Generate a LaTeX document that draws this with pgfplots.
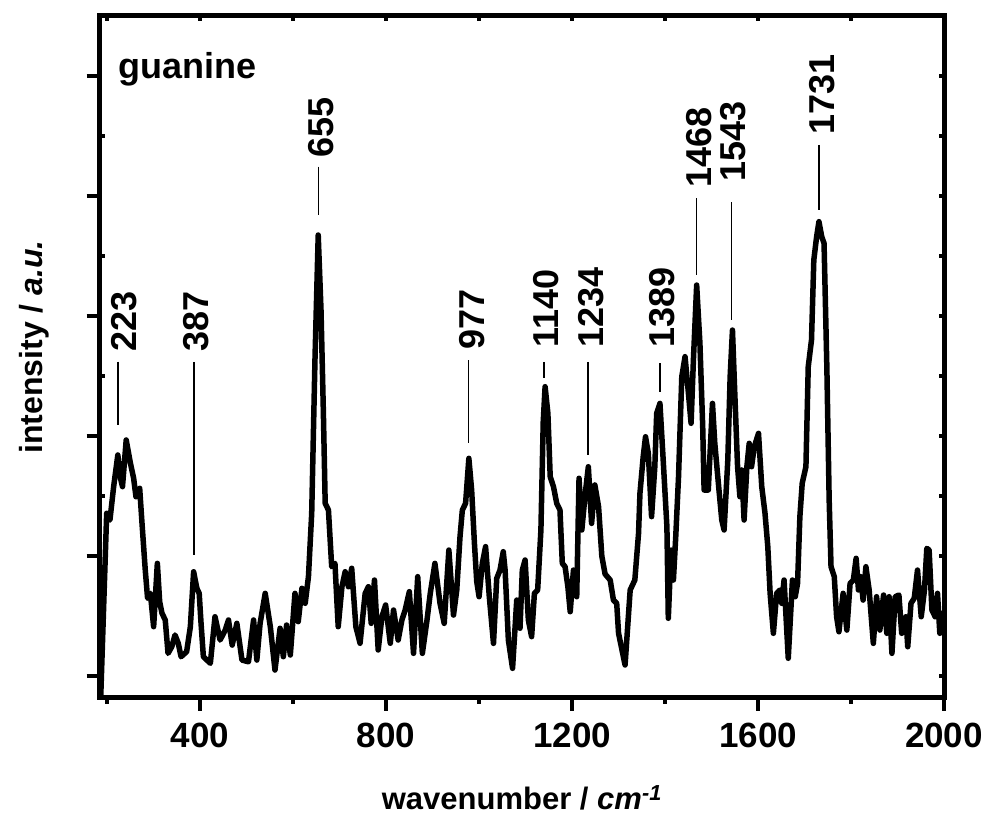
\documentclass[border=0pt]{standalone}
\usepackage{pgfplots}
\pgfplotsset{compat=1.18}
\usepackage{fontspec}
\setmainfont{Liberation Sans}

\pgfplotstableread{
x y
186 -0.2
199 1.356
206 1.300
214 1.578
223 1.842
228 1.661
233 1.578
241 1.967
250 1.775
257 1.648
262 1.494
270 1.564
275 1.273
282 0.883
287 0.648
293 0.689
300 0.411
308 0.939
313 0.619
318 0.523
325 0.467
331 0.189
339 0.244
346 0.342
353 0.273
359 0.161
371 0.203
379 0.411
386 0.869
393 0.731
398 0.689
402 0.439
407 0.161
422 0.106
432 0.494
443 0.300
454 0.383
461 0.467
469 0.258
479 0.439
490 0.133
504 0.119
515 0.467
522 0.133
529 0.439
540 0.689
551 0.411
561 0.050
572 0.398
579 0.161
586 0.425
594 0.175
604 0.689
611 0.453
619 0.731
626 0.606
633 0.828
640 1.356
647 2.633
654 3.675
660 3.050
665 2.217
669 1.439
676 1.383
683 0.911
690 0.939
697 0.411
705 0.744
712 0.869
719 0.744
726 0.898
735 0.411
744 0.273
755 0.689
762 0.744
768 0.439
775 0.800
783 0.217
791 0.494
799 0.592
809 0.273
816 0.550
826 0.300
834 0.467
841 0.550
850 0.703
859 0.189
868 0.828
878 0.189
888 0.467
895 0.689
905 0.939
916 0.606
925 0.439
935 1.050
945 0.508
952 0.717
959 1.161
964 1.383
971 1.439
978 1.814
984 1.550
990 1.106
995 0.786
1000 0.661
1007 0.939
1014 1.078
1022 0.661
1031 0.272
1038 0.814
1045 0.883
1052 1.036
1056 0.883
1063 0.300
1072 0.064
1081 0.633
1088 0.398
1093 0.883
1099 0.967
1106 0.467
1113 0.328
1119 0.689
1126 0.717
1133 1.217
1138 2.119
1142 2.411
1148 2.189
1153 1.661
1160 1.578
1167 1.439
1174 1.383
1179 0.939
1185 0.911
1191 0.744
1196 0.536
1203 0.883
1210 0.661
1215 1.648
1221 1.217
1228 1.508
1235 1.744
1242 1.272
1249 1.592
1257 1.411
1264 1.000
1271 0.850
1282 0.800
1289 0.633
1296 0.606
1300 0.356
1314 0.092
1325 0.717
1335 0.800
1343 1.189
1346 1.522
1353 1.828
1358 1.994
1364 1.856
1371 1.328
1378 1.744
1382 2.189
1389 2.272
1396 1.800
1404 1.244
1407 0.481
1413 1.050
1418 0.800
1423 1.161
1429 1.661
1436 2.494
1443 2.661
1449 2.411
1456 2.106
1461 2.633
1468 3.258
1475 2.772
1481 2.078
1484 1.550
1493 1.550
1502 2.272
1507 1.939
1516 1.550
1522 1.300
1527 1.217
1535 1.800
1540 2.494
1545 2.883
1550 2.356
1556 1.744
1561 1.494
1565 1.717
1570 1.300
1576 1.744
1581 1.939
1586 1.744
1592 1.911
1601 2.022
1608 1.578
1615 1.356
1621 1.078
1626 0.689
1633 0.356
1640 0.689
1647 0.717
1651 0.606
1656 0.800
1665 0.148
1674 0.800
1680 0.661
1685 0.772
1690 1.328
1695 1.606
1703 1.744
1708 2.578
1715 2.800
1720 3.467
1726 3.661
1731 3.786
1737 3.661
1742 3.606
1748 2.578
1753 1.467
1757 0.911
1764 0.828
1769 0.494
1774 0.369
1783 0.689
1791 0.383
1798 0.772
1805 0.800
1811 0.981
1816 0.717
1821 0.828
1826 0.633
1832 0.911
1839 0.717
1848 0.272
1855 0.661
1862 0.383
1870 0.675
1877 0.356
1882 0.661
1888 0.189
1895 0.661
1903 0.675
1909 0.356
1918 0.494
1922 0.244
1929 0.606
1936 0.648
1943 0.883
1951 0.494
1958 0.717
1963 1.064
1968 1.050
1974 0.550
1981 0.494
1986 0.689
1991 0.356
1996 0.522
2000 0.500
}\guanine

% peak marks: position, text bottom, line top, line bottom
\newcommand{\peak}[5]{%
  \draw[line width=1.5pt] (axis cs:#1,#3) -- (axis cs:#1,#4);
  \node[rotate=90, anchor=west, inner sep=0pt, font=\fontsize{36}{43}\selectfont\bfseries]
    at (axis cs:#5,#2) {#1};}

\begin{document}
\begin{tikzpicture}
\path[use as bounding box] (0,0) rectangle (988pt,821pt);

\pgfplotsset{
  myframe/.style={
    at={(99.7pt,123pt)}, anchor=south west,
    scale only axis, width=844.3pt, height=682pt,
    xmin=184, xmax=2000, ymin=-0.183, ymax=5.5,
  },
}

% main axis
\begin{axis}[
    myframe,
    axis line style={line width=5pt},
    xtick={400,800,...,2000},
    minor xtick={200,600,...,1800},
    ytick={0,1,...,5},
    yticklabels={},
    xtick pos=bottom, ytick pos=left,
    tick align=outside,
    major tick length=13pt,
    minor tick length=6pt,
    tick style={black, line width=4pt},
    xticklabel shift=12pt,
    x tick label style={inner sep=0pt, font=\fontsize{35}{42}\selectfont\bfseries,
      /pgf/number format/assume math mode=true,
      /pgf/number format/1000 sep={}},
    xlabel={wavenumber / \textit{cm}\textsuperscript{\textit{-1}}},
    xlabel style={at={(axis description cs:0.5,0)}, anchor=base, yshift=-112pt,
      font=\fontsize{31}{37}\selectfont\bfseries},
    ylabel={intensity / \textit{a.u.}},
    ylabel style={at={(axis description cs:0,0.5)}, anchor=base, yshift=57pt, xshift=10pt,
      font=\fontsize{32}{38}\selectfont\bfseries},
  ]
  \addplot[black, line width=5.5pt, line join=round] table {\guanine};

  \node[anchor=base west, inner sep=0pt, font=\fontsize{36}{43}\selectfont\bfseries]
    at (axis cs:224,4.983) {guanine};

  \peak{223}{2.70}{2.619}{2.092}{237}
  \peak{387}{2.70}{2.617}{1.008}{391}
  \peak{655}{4.317}{4.244}{3.842}{660}
  \peak{977}{2.717}{2.633}{1.942}{984}
  \peak{1140}{2.733}{2.617}{2.483}{1145}
  \peak{1234}{2.733}{2.617}{1.842}{1240}
  \peak{1389}{2.733}{2.608}{2.367}{1394}
  \peak{1468}{4.067}{3.983}{3.342}{1473}
  \peak{1543}{4.117}{3.950}{2.967}{1547}
  \peak{1731}{4.508}{4.425}{3.883}{1737}
\end{axis}

% short inner ticks on top and right
\begin{axis}[
    myframe,
    axis line style={draw=none},
    xtick={400,800,...,2000},
    minor xtick={200,600,...,1800},
    ytick={0,1,...,5},
    minor ytick={0.5,1.5,...,4.5},
    xticklabels={}, yticklabels={},
    xtick pos=top, ytick pos=right,
    tick align=inside,
    major tick length=5pt, minor tick length=5pt,
    tick style={black, line width=4pt},
  ]
\end{axis}

% short inner minor ticks on the left
\begin{axis}[
    myframe,
    axis line style={draw=none},
    xtick=\empty,
    ytick={0.5,1.5,...,4.5},
    yticklabels={},
    ytick pos=left,
    tick align=inside,
    major tick length=5pt,
    tick style={black, line width=4pt},
  ]
\end{axis}
\end{tikzpicture}
\end{document}
